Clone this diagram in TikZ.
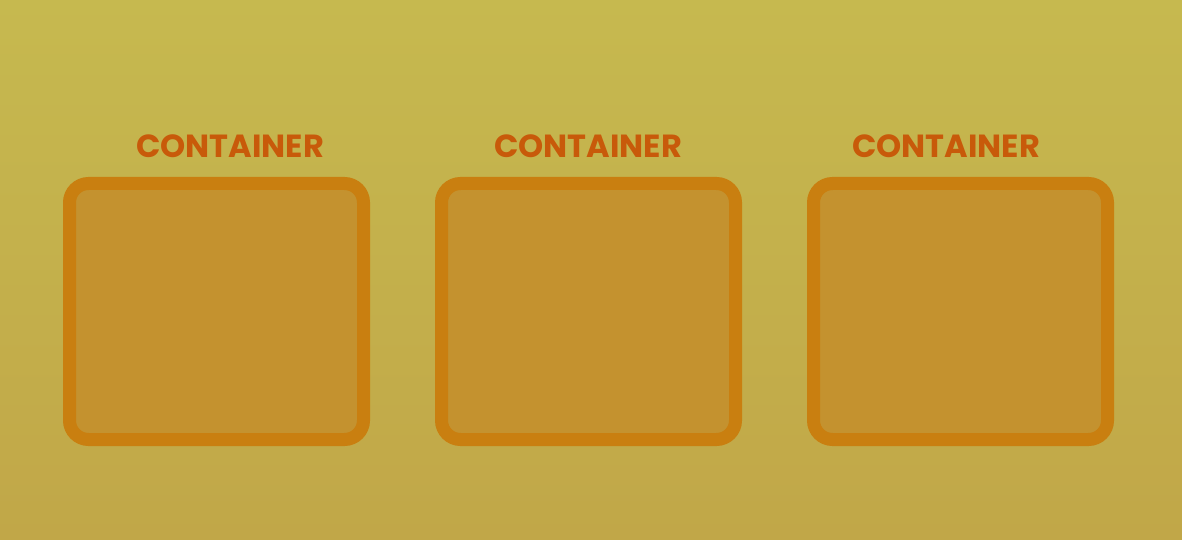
\documentclass[tikz,border=0pt]{standalone}
\usepackage{fontspec}
\setmainfont{Poppins}[BoldFont={* Bold}]
\definecolor{bgtop}{HTML}{C6B94F}
\definecolor{bgbot}{HTML}{C1A748}
\definecolor{boxline}{HTML}{C97F10}
\definecolor{boxfill}{HTML}{C4922F}
\definecolor{labelcol}{HTML}{C85A0A}
\begin{document}
\begin{tikzpicture}[x=1pt,y=1pt,
  container/.style={draw=boxline, fill=boxfill, line width=13pt, rounded corners=19pt, minimum width=294pt, minimum height=256pt, inner sep=0pt},
  clabel/.style={text=labelcol, font=\bfseries\fontsize{32}{36}\selectfont, inner sep=0pt, anchor=base}]
\shade[top color=bgtop, bottom color=bgbot] (0,0) rectangle (1182,539);
\useasboundingbox (0,0) rectangle (1182,539);
\node[container] (b1) at (216.5,227.5) {};
\node[container] (b2) at (588.5,227.5) {};
\node[container] (b3) at (960.5,227.5) {};
\node[clabel] (l1) at (230,381) {CONTAINER};
\node[clabel] (l2) at (588,381) {CONTAINER};
\node[clabel] (l3) at (946,381) {CONTAINER};
\end{tikzpicture}
\end{document}
